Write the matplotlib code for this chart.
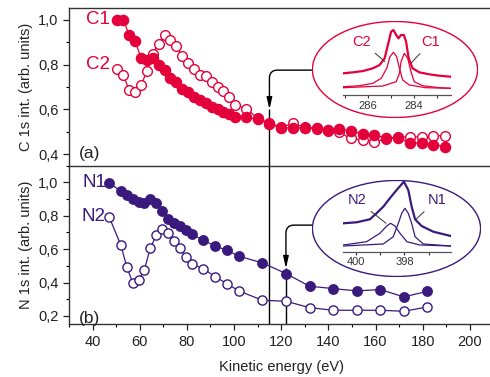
# C 1s / N 1s intensity vs kinetic energy, with XPS insets

import matplotlib
matplotlib.use('Agg')
import matplotlib.pyplot as plt
from matplotlib.patches import Ellipse
from matplotlib.ticker import MultipleLocator, FuncFormatter

plt.rcParams['font.family'] = ['Liberation Sans', 'DejaVu Sans']

# -----------------------------------------------
# Data
# -----------------------------------------------

# panel (a) - carbon
c_energy = [50.5, 53, 55.5, 58, 60.5, 63, 65.5, 68, 70.5, 73, 75.5, 78, 80.5,
            83, 85.5, 88, 90.5, 93, 95.5, 98, 100.5, 105.2, 110, 115, 120,
            125, 130, 135, 140, 144.5, 149.5, 154.5, 159.5, 164.5, 169.5,
            174.5, 179.5, 184.5, 189.5]
c1 = [1.0, 1.0, 0.932, 0.905, 0.831, 0.822, 0.827, 0.796, 0.775, 0.739, 0.723,
      0.689, 0.677, 0.656, 0.644, 0.629, 0.609, 0.600, 0.588, 0.579, 0.567,
      0.566, 0.557, 0.536, 0.518, 0.518, 0.518, 0.518, 0.507, 0.512, 0.505,
      0.493, 0.486, 0.474, 0.474, 0.452, 0.449, 0.444, 0.434]
c2 = [0.779, 0.754, 0.686, 0.677, 0.707, 0.769, 0.846, 0.893, 0.933, 0.911,
      0.884, 0.837, 0.807, 0.780, 0.752, 0.747, 0.724, 0.698, 0.683, 0.656,
      0.622, 0.603, 0.562, 0.538, 0.522, 0.538, 0.520, 0.515, 0.505, 0.498,
      0.471, 0.464, 0.456, 0.470, 0.478, 0.478, 0.478, 0.483, 0.483]

# panel (b) - nitrogen
n_energy = [47, 52, 54.5, 57, 59.5, 62, 64.5, 67, 69.5, 72, 74.5, 77, 79.5,
            82, 87, 92, 97, 102, 112, 122, 132, 142, 152, 162, 172, 182]
n1 = [0.998, 0.946, 0.926, 0.898, 0.882, 0.878, 0.898, 0.874, 0.826, 0.778,
      0.754, 0.738, 0.714, 0.690, 0.654, 0.618, 0.594, 0.558, 0.518, 0.454,
      0.378, 0.364, 0.350, 0.358, 0.314, 0.348]
n2 = [0.794, 0.624, 0.494, 0.400, 0.414, 0.478, 0.608, 0.682, 0.720, 0.694,
      0.650, 0.604, 0.554, 0.510, 0.484, 0.434, 0.394, 0.350, 0.294, 0.288,
      0.250, 0.234, 0.234, 0.234, 0.228, 0.254]

# inset (a): C 1s spectrum, binding energy (eV) vs intensity (arb.)
c_env_be = [287.07, 286.64, 286.21, 285.79, 285.50, 285.28, 285.14, 285.0,
            284.90, 284.78, 284.68, 284.57, 284.45, 284.35, 284.24, 284.07,
            283.78, 283.35, 282.92, 282.42]
c_env = [21.7, 22.7, 24.0, 26.7, 30.0, 36.7, 50.0, 63.3, 65.0, 60.0, 56.7,
         60.0, 60.0, 53.3, 36.7, 26.7, 22.7, 20.7, 19.3, 18.3]
c2_comp_be = [287.07, 286.36, 285.79, 285.43, 285.19, 285.05, 284.90, 284.76,
              284.64, 284.50, 284.21, 283.50, 282.42]
c2_comp = [8.3, 9.3, 11.7, 16.7, 26.7, 38.3, 42.7, 38.3, 26.7, 15.0, 10.0,
           7.3, 6.7]
c1_comp_be = [287.07, 285.36, 284.78, 284.64, 284.57, 284.43, 284.28, 284.14,
              284.0, 283.64, 282.92, 282.42]
c1_comp = [7.3, 9.0, 13.3, 21.7, 33.3, 41.7, 36.7, 23.3, 13.3, 9.3, 7.3, 6.7]

# inset (b): N 1s spectrum
n_env_be = [400.52, 399.97, 399.42, 399.15, 398.87, 398.60, 398.32, 398.02,
            397.84, 397.70, 397.56, 397.29, 396.81, 396.09]
n_env = [28.4, 29.4, 32.4, 38.4, 45.0, 53.4, 61.7, 70.0, 61.7, 45.0, 32.4,
         25.7, 20.0, 15.7]
n2_comp_be = [400.52, 399.56, 399.01, 398.73, 398.57, 398.39, 398.18, 397.90,
              397.36, 396.09]
n2_comp = [6.7, 10.0, 18.4, 25.7, 28.4, 25.7, 18.4, 10.0, 6.7, 5.7]
n1_comp_be = [400.52, 398.87, 398.46, 398.25, 398.11, 397.98, 397.84, 397.70,
              397.56, 397.22, 396.09]
n1_comp = [5.7, 7.7, 15.0, 28.4, 38.4, 43.4, 38.4, 28.4, 15.0, 7.7, 5.7]

# -----------------------------------------------
# Styles
# -----------------------------------------------

red = '#e4003b'
purple = '#3b1a7e'
comma = FuncFormatter(lambda v, p: f'{v:.1f}'.replace('.', ','))

fig = plt.figure(figsize=(4.9, 3.77), dpi=100)
ax1 = fig.add_axes([0.1408, 0.5605, 0.8663, 0.4175])
ax2 = fig.add_axes([0.1408, 0.1398, 0.8663, 0.4207])

for ax in (ax1, ax2):
    ax.set_xlim(30, 210)
    ax.xaxis.set_major_locator(MultipleLocator(20))
    ax.xaxis.set_minor_locator(MultipleLocator(10))
    ax.yaxis.set_major_locator(MultipleLocator(0.2))
    ax.yaxis.set_minor_locator(MultipleLocator(0.1))
    ax.yaxis.set_major_formatter(comma)
    ax.tick_params(which='major', direction='out', length=4, width=0.9,
                   labelsize=10.5, colors='#222222')
    ax.tick_params(which='minor', direction='out', length=2.5, width=0.8)
    ax.spines['right'].set_visible(False)
    for s in ax.spines.values():
        s.set_linewidth(1.0)
        s.set_color('#333333')

ax1.set_ylim(0.35, 1.05)
ax2.set_ylim(0.15, 1.1)
ax1.tick_params(axis='x', which='both', bottom=False, labelbottom=False)
ax1.spines['bottom'].set_visible(False)

# -----------------------------------------------
# Panel (a)
# -----------------------------------------------

ax1.plot(c_energy, c2, '-o', color=red, lw=0.9, ms=7.0, mfc='white',
         mec=red, mew=1.0, zorder=3)
ax1.plot(c_energy, c1, '-o', color=red, lw=0.9, ms=7.3, mfc=red,
         mec=red, zorder=4)
ax1.vlines(115, 0.35, 0.6, color='k', lw=1.0, zorder=1)
ax1.annotate('', xy=(115, 0.6), xytext=(133.1, 0.775),
             arrowprops=dict(arrowstyle='-|>,head_length=0.7,head_width=0.16',
                             connectionstyle='angle,angleA=180,angleB=90,rad=8',
                             color='k', lw=1.0, shrinkA=0, shrinkB=0))
ax1.text(47.5, 1.0, 'C1', color=red, fontsize=13.5, ha='right', va='center')
ax1.text(47.5, 0.8, 'C2', color=red, fontsize=13.5, ha='right', va='center')
ax1.text(34.4, 0.405, '(a)', fontsize=12.5, ha='left', va='center',
         color='#222222')
ax1.set_ylabel('C 1s int. (arb. units)', fontsize=10.5, color='#222222',
               labelpad=4)

# -----------------------------------------------
# Panel (b)
# -----------------------------------------------

ax2.plot(n_energy, n2, '-o', color=purple, lw=0.9, ms=6.6, mfc='white',
         mec=purple, mew=1.0, zorder=3)
ax2.plot(n_energy, n1, '-o', color=purple, lw=0.9, ms=6.8, mfc=purple,
         mec=purple, zorder=4)
ax2.axvline(115, color='k', lw=1.0, zorder=1)
ax2.vlines(122, 0.15, 0.485, color='k', lw=1.0, zorder=1)
ax2.annotate('', xy=(122, 0.485), xytext=(133.1, 0.744),
             arrowprops=dict(arrowstyle='-|>,head_length=0.7,head_width=0.16',
                             connectionstyle='angle,angleA=180,angleB=90,rad=8',
                             color='k', lw=1.0, shrinkA=0, shrinkB=0))
ax2.text(45.8, 1.0, 'N1', color=purple, fontsize=13.5, ha='right', va='center')
ax2.text(45.4, 0.794, 'N2', color=purple, fontsize=13.5, ha='right',
         va='center')
ax2.text(34.4, 0.186, '(b)', fontsize=12.5, ha='left', va='center',
         color='#222222')
ax2.set_ylabel('N 1s int. (arb. units)', fontsize=10.5, color='#222222',
               labelpad=4)
ax2.set_xlabel('Kinetic energy (eV)', fontsize=10.5, color='#222222',
               labelpad=8)

# -----------------------------------------------
# Insets
# -----------------------------------------------

def inset(ell_rect, spec_rect, color, xlim, majors, minors):
    e_ax = fig.add_axes(ell_rect)
    e_ax.set_axis_off()
    e_ax.add_patch(Ellipse((0.5, 0.5), 0.995, 0.99, transform=e_ax.transAxes,
                           facecolor='white', edgecolor=color, lw=1.0))
    s_ax = fig.add_axes(spec_rect)
    s_ax.patch.set_visible(False)
    for side in ('left', 'right', 'top'):
        s_ax.spines[side].set_visible(False)
    s_ax.spines['bottom'].set_color('#555555')
    s_ax.spines['bottom'].set_linewidth(0.9)
    s_ax.set_xlim(*xlim)
    s_ax.set_xticks(majors)
    s_ax.set_xticks(minors, minor=True)
    s_ax.set_yticks([])
    s_ax.tick_params(which='both', direction='out', length=2.5, width=0.8,
                     labelsize=8, pad=1.5, colors='#333333')
    return s_ax

sa = inset([0.6367, 0.687, 0.3388, 0.2573], [0.7006, 0.748, 0.2192, 0.1777],
           red, (287.07, 282.42), [286, 284], [287, 285, 283])
sa.set_ylim(0, 67)
sa.plot(c_env_be, c_env, color=red, lw=1.6)
sa.plot(c2_comp_be, c2_comp, color=red, lw=0.9)
sa.plot(c1_comp_be, c1_comp, color=red, lw=0.9)
sa.annotate('C2', xy=(285.18, 31.7), xytext=(286.28, 53.3), color=red,
            fontsize=10.5, ha='center', va='center',
            arrowprops=dict(arrowstyle='-', color='#333333', lw=0.7))
sa.annotate('C1', xy=(284.21, 30.0), xytext=(283.28, 53.3), color=red,
            fontsize=10.5, ha='center', va='center',
            arrowprops=dict(arrowstyle='-', color='#333333', lw=0.7))

sb = inset([0.6367, 0.2653, 0.3449, 0.2573], [0.7006, 0.3324, 0.2192, 0.2122],
           purple, (400.52, 396.09), [400, 398], [399, 397])
sb.set_ylim(0, 80)
sb.plot(n_env_be, n_env, color=purple, lw=1.6)
sb.plot(n2_comp_be, n2_comp, color=purple, lw=0.9)
sb.plot(n1_comp_be, n1_comp, color=purple, lw=0.9)
sb.annotate('N2', xy=(398.67, 26.7), xytext=(399.97, 51.7), color=purple,
            fontsize=10.5, ha='center', va='center',
            arrowprops=dict(arrowstyle='-', color='#333333', lw=0.7))
sb.annotate('N1', xy=(397.63, 30.0), xytext=(396.67, 51.7), color=purple,
            fontsize=10.5, ha='center', va='center',
            arrowprops=dict(arrowstyle='-', color='#333333', lw=0.7))

fig.savefig('out.png', dpi=100)
